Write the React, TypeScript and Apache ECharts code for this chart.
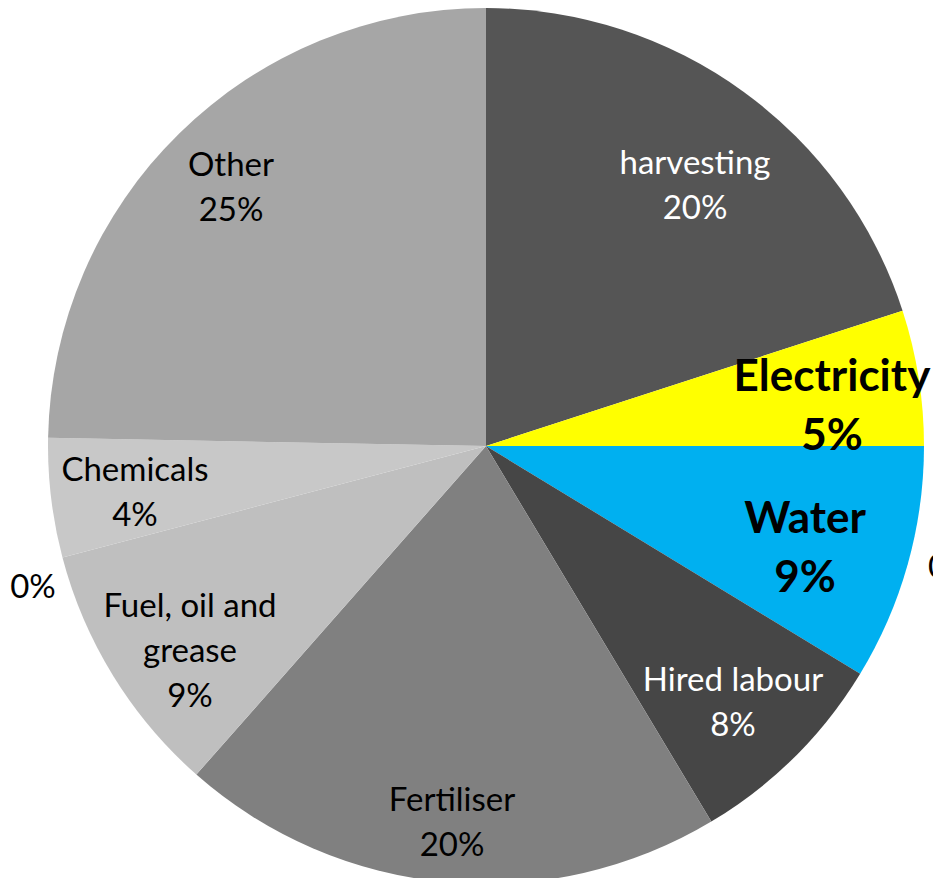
import React, { useEffect, useRef } from "react";
import * as echarts from "echarts";

// Slice names (clockwise from 12 o'clock) and values (% of total cost)
const NAMES = [
  "harvesting",
  "Electricity",
  "Unnamed 1",
  "Water",
  "Hired labour",
  "Fertiliser",
  "Fuel, oil and grease",
  "Unnamed 2",
  "Chemicals",
  "Other",
];
const VALUES = [20.0, 5.0, 0, 8.7, 7.7, 20.1, 9.4, 0, 4.4, 24.7];

// Styling (not data)
const COLORS = [
  "#555555",
  "#FFFF00",
  "#FFFFFF",
  "#00B0F0",
  "#464646",
  "#808080",
  "#BFBFBF",
  "#FFFFFF",
  "#C8C8C8",
  "#A6A6A6",
];
const TEXT_COLORS = [
  "#FFFFFF",
  "#000000",
  "#000000",
  "#000000",
  "#FFFFFF",
  "#000000",
  "#000000",
  "#000000",
  "#000000",
  "#000000",
];
const BOLD = [false, true, false, true, false, false, false, false, false, false];
const SHOW_NAME = [true, true, false, true, true, true, true, false, true, true];
const LABEL_BREAKS: Record<string, string> = {
  "Fuel, oil and grease": "Fuel, oil and\ngrease",
};
// Label anchor positions [x, y, align]
const LABEL_POS: [number, number, string][] = [
  [695, 183, "center"],
  [832, 403, "center"],
  [928, 565, "left"],
  [805, 545, "center"],
  [733, 700, "center"],
  [452, 820, "center"],
  [190, 649, "center"],
  [33, 585, "center"],
  [135, 490, "center"],
  [231, 185, "center"],
];

export default function App() {
  const ref = useRef<HTMLDivElement>(null);
  useEffect(() => {
    if (!ref.current) return;
    const chart = echarts.init(ref.current, undefined, { renderer: "svg" });
    const total = VALUES.reduce((a, b) => a + b, 0);
    const data = NAMES.map((name, i) => ({
      name,
      value: VALUES[i],
      itemStyle: { color: COLORS[i] },
      label: {
        color: TEXT_COLORS[i],
        fontWeight: BOLD[i] ? "bold" : "normal",
        fontSize: BOLD[i] ? 44 : 33,
        lineHeight: BOLD[i] ? 59 : 45,
      },
    }));
    chart.setOption({
      animation: false,
      backgroundColor: "#FFFFFF",
      series: [
        {
          type: "pie",
          center: [486, 446],
          radius: [0, 438],
          startAngle: 90,
          clockwise: true,
          avoidLabelOverlap: false,
          minAngle: 0,
          itemStyle: { borderWidth: 0 },
          emphasis: { disabled: true },
          label: {
            show: true,
            position: "inside",
            fontFamily: "Lato",
            align: "center",
            formatter: (p: any) => {
              const pct = Math.round((p.value / total) * 100) + "%";
              const i = p.dataIndex;
              if (!SHOW_NAME[i]) return pct;
              const nm = LABEL_BREAKS[p.name] ?? p.name;
              return nm + "\n" + pct;
            },
          },
          labelLine: { show: false },
          labelLayout: (params: any) => {
            const pos = LABEL_POS[params.dataIndex];
            return {
              x: pos[0],
              y: pos[1],
              align: pos[2],
              verticalAlign: "middle",
            };
          },
          data,
        },
      ],
    });
    return () => chart.dispose();
  }, []);
  return (
    <div
      ref={ref}
      style={{ position: "absolute", left: 0, top: 0, width: 933, height: 878 }}
    />
  );
}
